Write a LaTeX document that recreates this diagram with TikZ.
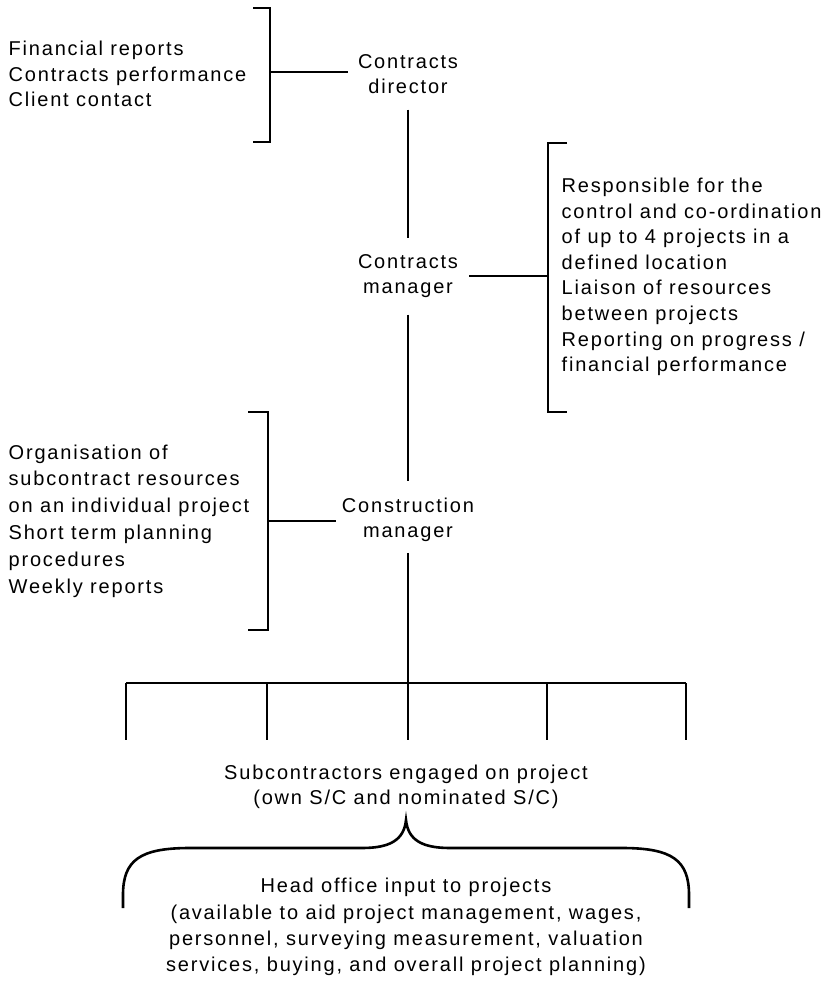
\documentclass[tikz,border=0pt]{standalone}
\usepackage{fontspec}
\setmainfont[LetterSpace=9]{Liberation Sans}
\begin{document}
\begin{tikzpicture}[x=1pt,y=-1pt,line width=1.4pt,
  lefttext/.style={inner sep=0pt,align=left,anchor=west,font=\fontsize{20}{25.6}\selectfont},
  role/.style={inner sep=0pt,align=center,font=\fontsize{20}{25.6}\selectfont},
  bracket/.style={line width=1.6pt},
  brace/.style={line width=2.6pt}]
\useasboundingbox (0,0) rectangle (831,987);

% roles
\node[role] (dir) at (408,74) {Contracts\\director};
\node[role] (mgr) at (408,276) {Contracts\\manager};
\node[role] (cm)  at (408,520) {Construction\\manager};

% duty lists
\node[lefttext] (dirDuties) at (8,74) {Financial reports\\Contracts performance\\Client contact};
\node[lefttext] (mgrDuties) at (561,277) {Responsible for the\\control and co-ordination\\of up to 4 projects in a\\defined location\\Liaison of resources\\between projects\\Reporting on progress /\\financial performance};
\node[lefttext,font=\fontsize{20}{26.8}\selectfont] (cmDuties) at (8,521) {Organisation of\\subcontract resources\\on an individual project\\Short term planning\\procedures\\Weekly reports};

% brackets round the duty lists
\draw[bracket] (253,8) -- (270,8) -- (270,142) -- (253,142);
\coordinate (b1) at (270,72);
\draw[bracket] (567,143) -- (548,143) -- (548,412) -- (567,412);
\coordinate (b2) at (548,276);
\draw[bracket] (248,412) -- (268,412) -- (268,630) -- (248,630);
\coordinate (b3) at (268,521);

\draw (b1) -- ([xshift=-9pt]dir.west |- b1);
\draw (b2) -- ([xshift=10pt]mgr.east |- b2);
\draw (b3) -- ([xshift=-5pt]cm.west |- b3);

% chain of command
\draw ([yshift=-15pt]dir.south) -- ([yshift=15pt]mgr.north);
\draw ([yshift=-16pt]mgr.south) -- ([yshift=16pt]cm.north);

% subcontractor bus
\coordinate (bus) at (408,683);
\draw ([yshift=-10pt]cm.south) -- (bus);
\draw (126,683) -- (686,683);
\foreach \x/\n in {126/t1,267/t2,408/t3,547/t4,686/t5}{
  \coordinate (\n) at (\x,740);
  \draw (\x,683) -- (\n);
}
\node[role] (subs) at (406,787) {Subcontractors engaged on project\\(own S/C and nominated S/C)};

% head office brace
\coordinate (tip) at (406,820);
\draw[brace] (123,908) -- (123,895) .. controls (123,860) and (140,848) .. (190,848) -- (362,848)
  .. controls (390,848) and (404,840) .. (tip)
  .. controls (408,840) and (422,848) .. (450,848) -- (622,848)
  .. controls (672,848) and (689,860) .. (689,895) -- (689,908);
\node[role,font=\fontsize{20}{26.3}\selectfont] (ho) at (406,927) {Head office input to projects\\(available to aid project management, wages,\\personnel, surveying measurement, valuation\\services, buying, and overall project planning)};
\end{tikzpicture}
\end{document}
